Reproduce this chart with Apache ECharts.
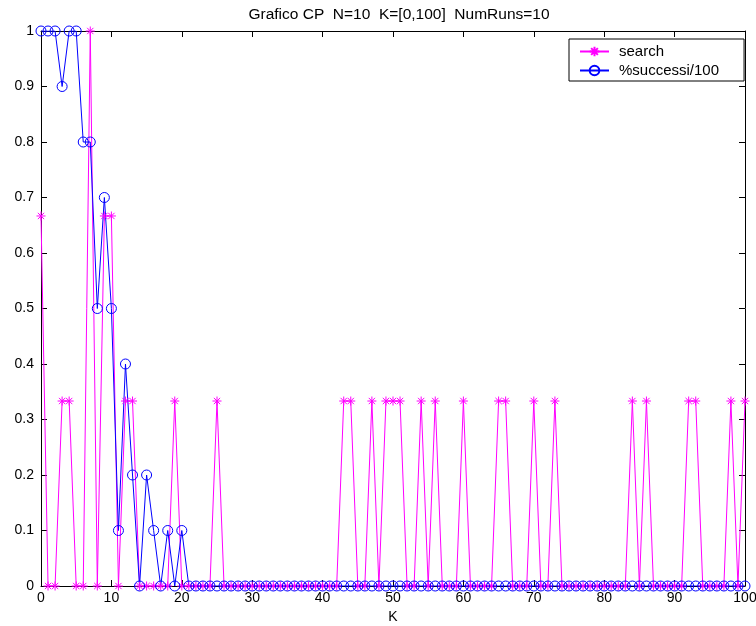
<!DOCTYPE html>
<html>
<head>
<meta charset="utf-8">
<script src="https://cdn.jsdelivr.net/npm/echarts@6/dist/echarts.min.js"></script>
<style>
  html, body { margin: 0; padding: 0; background: #fff; }
  #main { width: 756px; height: 626px; }
</style>
</head>
<body>
<div id="main"></div>
<script>
var title = 'Grafico CP  N=10  K=[0,100]  NumRuns=10';
var legendNames = ['search', '%successi/100'];

// valori per K = 0..100
var searchValues = [
  0.6667, 0, 0, 0.3333, 0.3333, 0, 0, 1, 0, 0.6667,
  0.6667, 0, 0.3333, 0.3333, 0, 0, 0, 0, 0, 0.3333,
  0, 0, 0, 0, 0, 0.3333, 0, 0, 0, 0,
  0, 0, 0, 0, 0, 0, 0, 0, 0, 0,
  0, 0, 0, 0.3333, 0.3333, 0, 0, 0.3333, 0, 0.3333,
  0.3333, 0.3333, 0, 0, 0.3333, 0, 0.3333, 0, 0, 0,
  0.3333, 0, 0, 0, 0, 0.3333, 0.3333, 0, 0, 0,
  0.3333, 0, 0, 0.3333, 0, 0, 0, 0, 0, 0,
  0, 0, 0, 0, 0.3333, 0, 0.3333, 0, 0, 0,
  0, 0, 0.3333, 0.3333, 0, 0, 0, 0, 0.3333, 0,
  0.3333
];

var successValues = [
  1, 1, 1, 0.9, 1, 1, 0.8, 0.8, 0.5, 0.7,
  0.5, 0.1, 0.4, 0.2, 0, 0.2, 0.1, 0, 0.1, 0,
  0.1, 0, 0, 0, 0, 0, 0, 0, 0, 0,
  0, 0, 0, 0, 0, 0, 0, 0, 0, 0,
  0, 0, 0, 0, 0, 0, 0, 0, 0, 0,
  0, 0, 0, 0, 0, 0, 0, 0, 0, 0,
  0, 0, 0, 0, 0, 0, 0, 0, 0, 0,
  0, 0, 0, 0, 0, 0, 0, 0, 0, 0,
  0, 0, 0, 0, 0, 0, 0, 0, 0, 0,
  0, 0, 0, 0, 0, 0, 0, 0, 0, 0,
  0
];

var font = 'Liberation Sans, Arial, sans-serif';
var asterisk = 'path://M0,-1L0,1M-1,0L1,0M-0.7,-0.7L0.7,0.7M-0.7,0.7L0.7,-0.7';

function toPoints(values) {
  var pts = [];
  for (var i = 0; i < values.length; i++) {
    pts.push([i, values[i]]);
  }
  return pts;
}

var chart = echarts.init(document.getElementById('main'), null, { renderer: 'canvas' });

var frameAxisX = {
  type: 'value',
  min: 0,
  max: 100,
  interval: 10,
  axisLine: { show: true, onZero: false, lineStyle: { color: '#000', width: 1 } },
  axisTick: { show: true, inside: true, length: 6, lineStyle: { color: '#000' } },
  splitLine: { show: false }
};
var frameAxisY = {
  type: 'value',
  min: 0,
  max: 1,
  interval: 0.1,
  axisLine: { show: true, onZero: false, lineStyle: { color: '#000', width: 1 } },
  axisTick: { show: true, inside: true, length: 6, lineStyle: { color: '#000' } },
  splitLine: { show: false }
};

var option = {
  animation: false,
  backgroundColor: '#fff',
  title: {
    text: title,
    left: 394,
    textAlign: 'center',
    top: 2,
    textStyle: { fontFamily: font, fontSize: 15.5, fontWeight: 'normal', color: '#000' }
  },
  legend: {
    data: legendNames,
    orient: 'vertical',
    left: 569,
    top: 39,
    padding: [5, 25, 3, 10],
    itemWidth: 29,
    itemHeight: 12,
    itemGap: 4,
    borderColor: '#000',
    borderWidth: 1,
    backgroundColor: '#fff',
    textStyle: { fontFamily: font, fontSize: 15, color: '#000', padding: [0, 0, 0, 5] }
  },
  grid: { left: 41, right: 11, top: 31, bottom: 40, containLabel: false, outerBoundsMode: 'none' },
  xAxis: [
    Object.assign({}, frameAxisX, {
      position: 'bottom',
      name: 'K',
      nameLocation: 'middle',
      nameGap: 19,
      nameTextStyle: { fontFamily: font, fontSize: 14, color: '#000' },
      axisLabel: { fontFamily: font, fontSize: 14, color: '#000', margin: 5 }
    }),
    Object.assign({}, frameAxisX, { position: 'top', axisLabel: { show: false } })
  ],
  yAxis: [
    Object.assign({}, frameAxisY, {
      position: 'left',
      axisLabel: { fontFamily: font, fontSize: 14, color: '#000', margin: 7 }
    }),
    Object.assign({}, frameAxisY, { position: 'right', axisLabel: { show: false } })
  ],
  series: [
    {
      name: legendNames[0],
      type: 'line',
      xAxisIndex: 0,
      yAxisIndex: 0,
      data: toPoints(searchValues),
      symbol: asterisk,
      symbolSize: 9,
      showAllSymbol: true,
      lineStyle: { color: '#ff00ff', width: 1 },
      itemStyle: { color: 'rgba(0,0,0,0)', borderColor: '#ff00ff', borderWidth: 1 }
    },
    {
      name: legendNames[1],
      type: 'line',
      xAxisIndex: 0,
      yAxisIndex: 0,
      data: toPoints(successValues),
      symbol: 'circle',
      symbolSize: 10,
      showAllSymbol: true,
      lineStyle: { color: '#0000ff', width: 1 },
      itemStyle: { color: 'rgba(0,0,0,0)', borderColor: '#0000ff', borderWidth: 1 }
    }
  ]
};

chart.setOption(option);
</script>
</body>
</html>
